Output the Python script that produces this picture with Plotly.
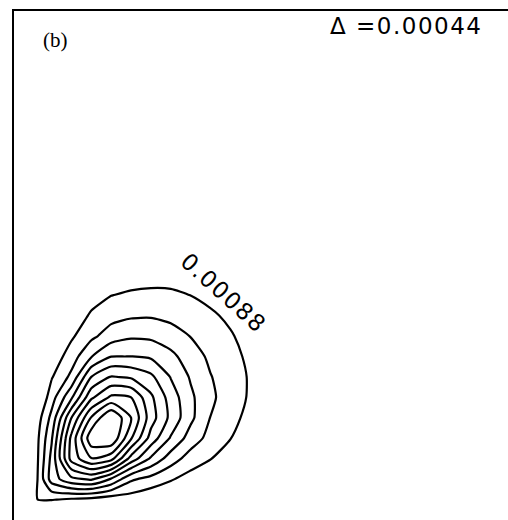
import plotly.graph_objects as go

# Grid coordinates (arbitrary units)
x_grid = [0.0, 0.4, 0.8, 1.2, 1.6, 2.0, 2.4, 2.8, 3.2, 3.6, 4.0, 4.4, 4.8, 5.2, 5.6]
y_grid = [0.0, 0.4, 0.8, 1.2, 1.6, 2.0, 2.4, 2.8, 3.2, 3.6, 4.0, 4.4, 4.8]

# Density on the grid; one row per y_grid value, one column per x_grid value
density = [
    [0, 0, 0, 0, 0, 0, 0, 0, 0, 0, 0, 0, 0, 0, 0],
    [0, 0.000871, 0.000902, 0.000814, 0.000735, 0.000625, 0.000651, 0.000515, 0.000431, 0.000132, 0, 0, 0, 0, 0],
    [0, 0.00044, 0.001976, 0.00253, 0.002706, 0.002156, 0.001395, 0.001166, 0.000924, 0.000704, 0.000484, 0.000308, 0, 0, 0],
    [0, 0.000418, 0.001892, 0.003696, 0.004378, 0.004114, 0.002904, 0.002134, 0.00154, 0.001122, 0.000898, 0.000638, 0.000418, 0.000044, 0],
    [0, 0.00044, 0.001716, 0.003652, 0.00515, 0.00524, 0.004004, 0.002904, 0.002156, 0.001562, 0.001166, 0.000893, 0.000616, 0.00029, 0],
    [0, 0.000374, 0.001452, 0.003084, 0.004444, 0.00532, 0.004405, 0.003282, 0.002521, 0.001866, 0.001311, 0.00103, 0.000739, 0.000462, 0.000176],
    [0, 0.000088, 0.001122, 0.002134, 0.003432, 0.004048, 0.003964, 0.003168, 0.002442, 0.001848, 0.001408, 0.0011, 0.000827, 0.000524, 0.000251],
    [0, 0.000066, 0.000845, 0.00143, 0.002645, 0.003111, 0.003014, 0.002737, 0.002178, 0.001716, 0.001342, 0.001091, 0.000836, 0.000554, 0.000308],
    [0, 0.000088, 0.000594, 0.0011, 0.001738, 0.002191, 0.002204, 0.002134, 0.001874, 0.00154, 0.001232, 0.001016, 0.000792, 0.000537, 0.000308],
    [0, 0, 0.000352, 0.000814, 0.00121, 0.001549, 0.001694, 0.001672, 0.001518, 0.001307, 0.001122, 0.000924, 0.000713, 0.00044, 0.000242],
    [0, 0, 0, 0.000572, 0.000946, 0.001157, 0.001258, 0.001276, 0.001201, 0.001087, 0.00095, 0.000792, 0.000576, 0.000361, 0.000158],
    [0, 0, 0, 0.000286, 0.000682, 0.000871, 0.00095, 0.000981, 0.000959, 0.000876, 0.000757, 0.000612, 0.00044, 0.000242, 0.000044],
    [0, 0, 0, 0.000132, 0.00044, 0.000594, 0.000651, 0.000691, 0.000704, 0.000651, 0.000563, 0.000462, 0.000308, 0.000132, 0],
]

# Contour levels
level_start = 0.00088
level_step = 0.00044
level_end = 0.00484

panel_label = "(b)"
step_label = "\u0394 =0.00044"
outer_label = "0.00088"

fig = go.Figure()
fig.add_trace(go.Contour(
    x=x_grid,
    y=y_grid,
    z=density,
    autocontour=False,
    contours=dict(start=level_start, end=level_end, size=level_step,
                  coloring="none", showlabels=False),
    line=dict(color="black", width=2.2, smoothing=0.6),
    showscale=False,
    hoverinfo="skip",
))

sans = "DejaVu Sans"
fig.add_annotation(
    xref="paper", yref="paper", x=0.055, y=0.943,
    xanchor="left", yanchor="middle", showarrow=False,
    text=panel_label, font=dict(family="Liberation Serif", size=21, color="black"),
)
fig.add_annotation(
    xref="paper", yref="paper", x=0.952, y=0.97,
    xanchor="right", yanchor="middle", showarrow=False,
    text='<span style="letter-spacing:1.5px">' + step_label + "</span>",
    font=dict(family=sans, size=23, color="black"),
)
fig.add_annotation(
    xref="x", yref="y", x=4.27, y=4.45,
    xanchor="center", yanchor="middle", showarrow=False, textangle=42,
    text='<span style="letter-spacing:1.5px">' + outer_label + "</span>",
    font=dict(family=sans, size=23, color="black"),
)

fig.update_xaxes(range=[0.0403, 10], showline=True, linewidth=2, linecolor="black",
                 side="top", mirror=False, showgrid=False, zeroline=False,
                 showticklabels=False, ticks="")
fig.update_yaxes(range=[0, 9.961], showline=True, linewidth=2, linecolor="black",
                 side="left", mirror=False, showgrid=False, zeroline=False,
                 showticklabels=False, ticks="")
fig.update_layout(
    width=508, height=520,
    margin=dict(l=14, r=0, t=11, b=0),
    paper_bgcolor="white", plot_bgcolor="white",
    showlegend=False,
)

fig.write_html("out.html")
